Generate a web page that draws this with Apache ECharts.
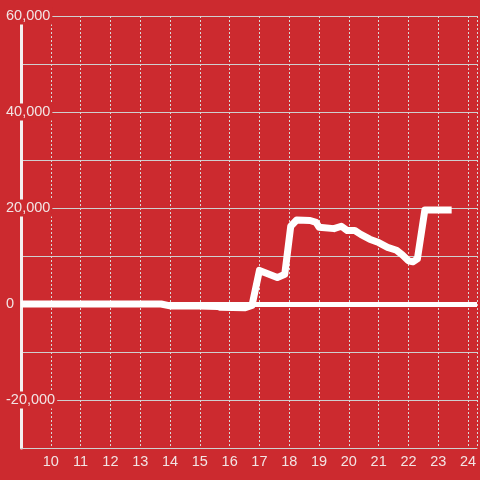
<!DOCTYPE html>
<html>
<head>
<meta charset="utf-8">
<script src="https://cdn.jsdelivr.net/npm/echarts@6/dist/echarts.min.js"></script>
<style>
html,body{margin:0;padding:0;background:#cc2a2f;}
#c{width:480px;height:480px;}
</style>
</head>
<body>
<div id="c"></div>
<script>
var xValues = [9, 13.7, 14.0, 15.0, 15.6, 15.7, 16.5, 16.75, 17.0, 17.6, 17.85, 18.05, 18.25, 18.7, 18.9, 19.0, 19.5, 19.75, 19.95, 20.2, 20.4, 20.7, 21.0, 21.3, 21.6, 21.8, 22.0, 22.15, 22.3, 22.55, 23.45];
var yValues = [0, 0, -400, -400, -500, -700, -800, -300, 7000, 5500, 6200, 16200, 17500, 17400, 17000, 16000, 15700, 16200, 15300, 15300, 14500, 13500, 12800, 11800, 11200, 10200, 9000, 8800, 9400, 19600, 19600];
var xTicks = [10, 11, 12, 13, 14, 15, 16, 17, 18, 19, 20, 21, 22, 23, 24];
var yLabelValues = [60000, 40000, 20000, 0, -20000];

var bg = '#cc2a2f';
var data = xValues.map(function (x, i) { return [x, yValues[i]]; });

var chart = echarts.init(document.getElementById('c'), null, {renderer: 'canvas'});
chart.setOption({
  backgroundColor: bg,
  animation: false,
  grid: {left: 21, right: 0, top: 16, bottom: 32, containLabel: false},
  xAxis: {
    type: 'value',
    min: 9,
    max: 24.3,
    interval: 1,
    axisLine: {show: true, onZero: false, lineStyle: {color: '#d0d0d0', width: 1}},
    axisTick: {show: false},
    axisLabel: {
      color: '#f2e4e4',
      fontSize: 14.5,
      fontFamily: 'Liberation Sans, Arial, sans-serif',
      margin: 6,
      formatter: function (v) { return xTicks.indexOf(v) >= 0 ? String(v) : ''; }
    },
    splitLine: {show: true, lineStyle: {color: '#d8d8d8', width: 1, type: [2, 2]}}
  },
  yAxis: {
    type: 'value',
    min: -30000,
    max: 60000,
    interval: 10000,
    axisLine: {show: true, lineStyle: {color: '#f4f0f0', width: 3}},
    axisTick: {show: false},
    axisLabel: {
      color: '#f2e4e4',
      fontSize: 14.5,
      fontFamily: 'Liberation Sans, Arial, sans-serif',
      align: 'left',
      margin: 15,
      backgroundColor: bg,
      padding: [1, 2, 1, 0],
      formatter: function (v) {
        return yLabelValues.indexOf(v) >= 0 ? v.toLocaleString('en-US') : '';
      }
    },
    splitLine: {show: true, lineStyle: {color: '#cfcfcf', width: 1, type: 'solid'}}
  },
  series: [{
    type: 'line',
    data: data,
    showSymbol: false,
    symbol: 'none',
    lineStyle: {color: '#ffffff', width: 7, join: 'round', cap: 'butt'},
    markLine: {
      silent: true,
      symbol: 'none',
      label: {show: false},
      lineStyle: {color: '#ffffff', width: 5, type: 'solid'},
      data: [{yAxis: 0}]
    }
  }]
});
</script>
</body>
</html>
